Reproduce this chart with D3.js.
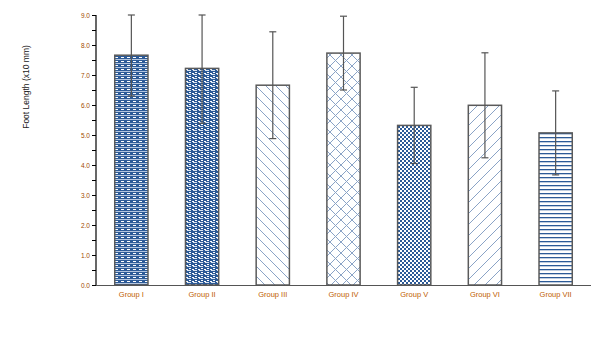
<!DOCTYPE html>
<html><head><meta charset="utf-8">
<script src="https://cdn.jsdelivr.net/npm/d3@7"></script>
<style>body{margin:0;background:#fff}</style>
</head><body>
<svg id="c" width="605" height="340"></svg>
<script>
const categories = ["Group I","Group II","Group III","Group IV","Group V","Group VI","Group VII"];
const means = [7.66, 7.22, 6.66, 7.73, 5.32, 5.99, 5.07];
const sds = [1.36, 1.83, 1.78, 1.23, 1.27, 1.75, 1.40];
const yTicks = [0,1,2,3,4,5,6,7,8,9];
const yLabel = "Foot Length (x10 mm)";

const svg = d3.select("#c");
const defs = svg.append("defs");
const blue = "#2c5a97", lblue = "#8aa3c6";

function pat(id, w, h, draw) {
  const p = defs.append("pattern").attr("id", id).attr("patternUnits","userSpaceOnUse").attr("width", w).attr("height", h);
  draw(p);
}
pat("p0", 6, 4, p => {
  p.append("rect").attr("width",6).attr("height",4).attr("fill",blue);
  p.append("rect").attr("x",1).attr("y",1).attr("width",3).attr("height",1).attr("fill","#fff");
  p.append("rect").attr("x",0).attr("y",3).attr("width",6).attr("height",1).attr("fill","#b4c5de");
});
pat("p1", 6, 4, p => {
  p.append("rect").attr("width",6).attr("height",4).attr("fill",blue);
  p.append("rect").attr("x",0).attr("y",1).attr("width",2).attr("height",1).attr("fill","#fff");
  p.append("rect").attr("x",3).attr("y",0).attr("width",2).attr("height",1).attr("fill","#fff");
  p.append("rect").attr("x",1).attr("y",2).attr("width",4).attr("height",1).attr("fill","#dbe4f0");
});
pat("p2", 10, 10, p => {
  p.append("rect").attr("width",10).attr("height",10).attr("fill","#fff");
  p.append("path").attr("d","M-5,-5L15,15M-5,5L5,15M5,-5L15,5").attr("stroke",lblue).attr("stroke-width",1);
});
pat("p3", 11, 11, p => {
  p.append("rect").attr("width",11).attr("height",11).attr("fill","#fff");
  p.append("path").attr("d","M0,0L11,11M11,0L0,11").attr("stroke",lblue).attr("stroke-width",1);
});
pat("p4", 4, 4, p => {
  p.append("rect").attr("width",4).attr("height",4).attr("fill","#fff");
  p.append("rect").attr("x",0).attr("y",0).attr("width",2).attr("height",2).attr("fill",blue);
  p.append("rect").attr("x",2).attr("y",2).attr("width",2).attr("height",2).attr("fill",blue);
});
pat("p5", 11, 11, p => {
  p.append("rect").attr("width",11).attr("height",11).attr("fill","#fff");
  p.append("path").attr("d","M-5.5,16.5L16.5,-5.5M-5.5,5.5L5.5,-5.5M5.5,16.5L16.5,5.5").attr("stroke",lblue).attr("stroke-width",1);
});
pat("p6", 4, 4, p => {
  p.append("rect").attr("width",4).attr("height",4).attr("fill","#fff");
  p.append("rect").attr("x",0).attr("y",1).attr("width",4).attr("height",1.3).attr("fill",blue);
});

const x = d3.scaleBand().domain(categories).range([96, 591]).paddingInner(0.53).paddingOuter(0.265);
const y = d3.scaleLinear().domain([0, 9]).range([285, 15]);

const g = svg.append("g");
g.selectAll("rect.bar").data(categories).join("rect")
  .attr("class","bar")
  .attr("x", d => x(d)).attr("width", x.bandwidth())
  .attr("y", (d,i) => y(means[i])).attr("height", (d,i) => y(0) - y(means[i]))
  .attr("fill", (d,i) => `url(#p${i})`)
  .attr("stroke", "#5a5a5a").attr("stroke-width", 1.5);

const eb = svg.append("g").attr("stroke","#555").attr("stroke-width",1.2);
categories.forEach((c,i) => {
  const cx = x(c) + x.bandwidth()/2;
  const top = Math.min(9, means[i] + sds[i]);
  const bot = means[i] - sds[i];
  eb.append("line").attr("x1",cx).attr("x2",cx).attr("y1",y(top)).attr("y2",y(bot));
  eb.append("line").attr("x1",cx-3.5).attr("x2",cx+3.5).attr("y1",y(top)).attr("y2",y(top));
  eb.append("line").attr("x1",cx-3.5).attr("x2",cx+3.5).attr("y1",y(bot)).attr("y2",y(bot));
});

const ya = d3.axisLeft(y).tickValues(d3.range(0, 9.01, 0.5)).tickSize(4)
  .tickFormat(d => Number.isInteger(d) ? d.toFixed(1) : "");
const yg = svg.append("g").attr("transform","translate(96,0)").call(ya);
yg.select(".domain").attr("stroke","#000").attr("stroke-width",1.2).attr("d","M0,15V285");
yg.selectAll(".tick line").attr("stroke","#000").attr("stroke-width",1);
yg.selectAll(".tick text").attr("font-family","Liberation Sans, Arial").attr("font-size",6.5)
  .attr("fill","#a04a00").attr("x",-6);

svg.append("line").attr("x1",96).attr("x2",591).attr("y1",285.5).attr("y2",285.5).attr("stroke","#555").attr("stroke-width",1.2);

svg.append("g").selectAll("text").data(categories).join("text")
  .attr("x", d => x(d) + x.bandwidth()/2).attr("y", 297)
  .attr("text-anchor","middle").attr("font-family","Liberation Sans, Arial").attr("font-size",7.5)
  .attr("fill","#c06000").text(d => d);

svg.append("text").attr("transform","translate(29,87) rotate(-90)")
  .attr("text-anchor","middle").attr("font-family","Liberation Sans, Arial").attr("font-size",8.5)
  .attr("fill","#222").text(yLabel);
</script>
</body></html>
